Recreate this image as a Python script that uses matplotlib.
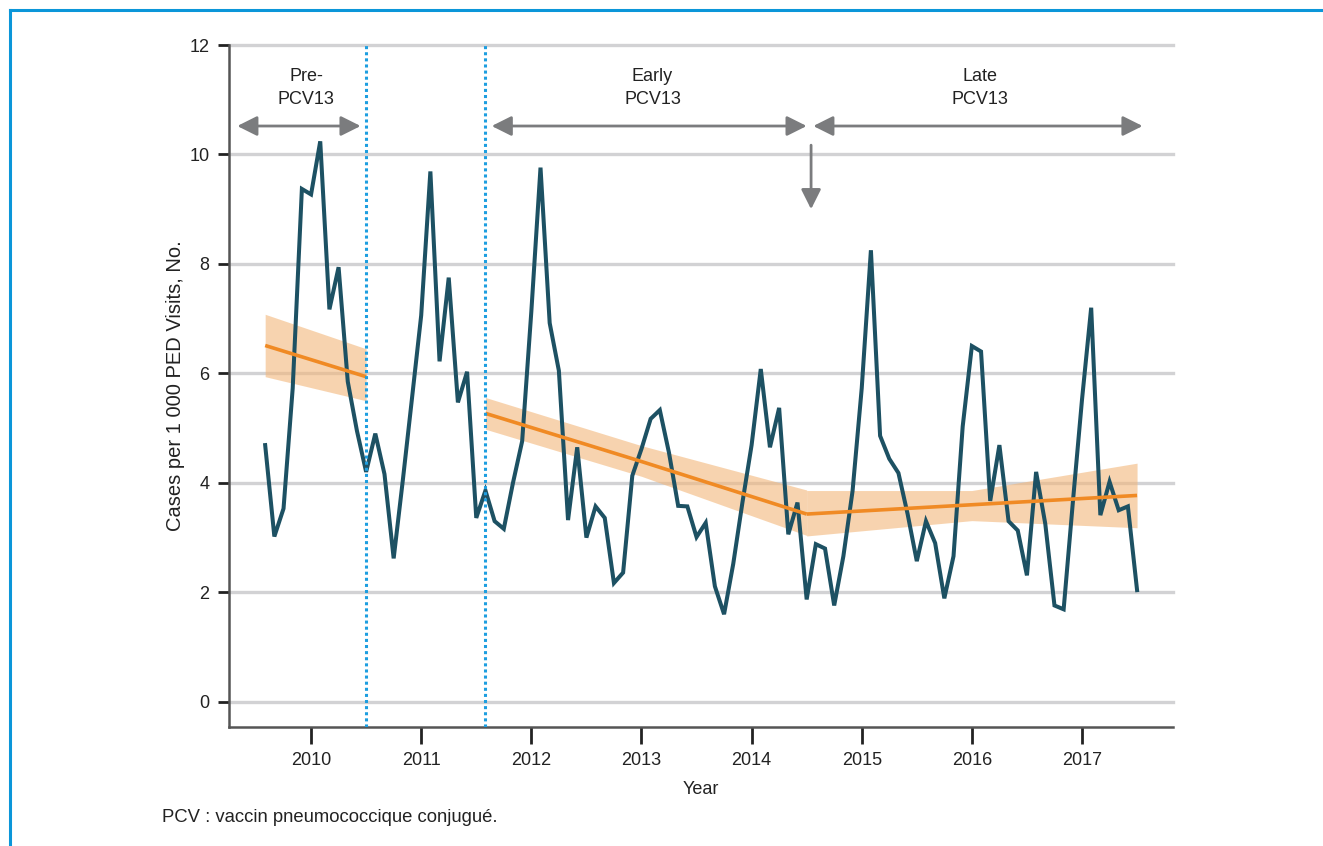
import matplotlib
matplotlib.use("Agg")
import matplotlib.pyplot as plt
import pandas as pd
from matplotlib.lines import Line2D

plt.rcParams['font.family'] = ['Liberation Sans', 'DejaVu Sans']

# Monthly series, Aug 2009 - Jul 2017
months = pd.date_range("2009-08-01", "2017-07-01", freq="MS")
cases = [
    4.69, 3.02, 3.53, 5.73, 9.37,                      # 2009
    9.27, 10.24, 7.17, 7.94, 5.85, 4.95, 4.20, 4.90, 4.16, 2.62, 4.05, 5.55,   # 2010
    7.06, 9.69, 6.22, 7.75, 5.47, 6.03, 3.36, 3.86, 3.30, 3.16, 4.00, 4.76,    # 2011
    7.13, 9.76, 6.92, 6.05, 3.32, 4.65, 3.00, 3.57, 3.36, 2.17, 2.36, 4.13,    # 2012
    4.62, 5.17, 5.33, 4.55, 3.58, 3.57, 3.01, 3.27, 2.11, 1.60, 2.52, 3.64,    # 2013
    4.69, 6.08, 4.65, 5.37, 3.06, 3.64, 1.87, 2.88, 2.80, 1.76, 2.66, 3.85,    # 2014
    5.73, 8.25, 4.86, 4.44, 4.18, 3.43, 2.57, 3.30, 2.90, 1.89, 2.66, 5.03,    # 2015
    6.50, 6.40, 3.67, 4.69, 3.30, 3.13, 2.31, 4.20, 3.25, 1.76, 1.69, 3.64,    # 2016
    5.52, 7.20, 3.41, 4.02, 3.50, 3.57, 2.04,                                  # 2017
]

# Segmented regression fits with 95% CI band (start, mid, end knots)
trend_pre_dates = ["2009-08-01", "2010-07-01"]
trend_pre = [6.51, 5.94]
band_pre_lo = [5.94, 5.50]
band_pre_hi = [7.08, 6.45]

trend_early_dates = ["2011-08-01", "2013-01-01", "2014-07-01"]
trend_early = [5.27, 4.39, 3.43]
band_early_lo = [4.98, 4.12, 3.04]
band_early_hi = [5.56, 4.68, 3.87]

trend_late_dates = ["2014-07-01", "2016-01-01", "2017-07-01"]
trend_late = [3.43, 3.60, 3.77]
band_late_lo = [3.03, 3.31, 3.18]
band_late_hi = [3.86, 3.86, 4.36]

period_breaks = ["2010-07-01", "2011-08-01"]
years = [2010, 2011, 2012, 2013, 2014, 2015, 2016, 2017]


def decimal_year(d):
    d = pd.Timestamp(d)
    return d.year + (d.month - 1) / 12


x = [decimal_year(m) for m in months]

fig = plt.figure(figsize=(13.23, 8.46), dpi=100)
ax = fig.add_axes([0.1731, 0.1407, 0.7135, 0.8061])

ax.set_xlim(2009.255, 2017.826)
ax.set_ylim(-0.46, 12)

for yv in range(0, 13, 2):
    ax.axhline(yv, color="#d2d2d4", lw=2.4, zorder=0, clip_on=False)

teal = "#1d5163"
orange = "#f08a24"
for dates, line, lo, hi in [
    (trend_pre_dates, trend_pre, band_pre_lo, band_pre_hi),
    (trend_early_dates, trend_early, band_early_lo, band_early_hi),
    (trend_late_dates, trend_late, band_late_lo, band_late_hi),
]:
    tx = [decimal_year(d) for d in dates]
    ax.fill_between(tx, lo, hi, color="#f3b77a", alpha=0.6, lw=0, zorder=1)
    ax.plot(tx, line, color=orange, lw=2.6, zorder=3, solid_capstyle="butt")

ax.plot(x, cases, color=teal, lw=2.9, zorder=2, solid_joinstyle="miter")

for b in period_breaks:
    ax.axvline(decimal_year(b), color="#1d9ee0", lw=2.2, ls=(0, (1, 1)), zorder=4)

# period arrows and labels
head = "head_length=0.6,head_width=0.3"
arrow_kw = dict(arrowstyle="<|-|>," + head, color="#7b7c7e", lw=2.0,
                shrinkA=0, shrinkB=0, mutation_scale=20)
for x0, x1, label, xc in [
    (2009.33, 2010.45, "Pre-\nPCV13", 2009.955),
    (2011.64, 2014.50, "Early\nPCV13", 2013.10),
    (2014.56, 2017.55, "Late\nPCV13", 2016.07),
]:
    ax.annotate("", xy=(x1, 10.52), xytext=(x0, 10.52), arrowprops=arrow_kw)
    ax.text(xc, 11.22, label, ha="center", va="center", fontsize=13,
            color="#222222", linespacing=1.45)

ax.annotate("", xy=(2014.54, 9.0), xytext=(2014.54, 10.17),
            arrowprops=dict(arrowstyle="-|>," + head, color="#7b7c7e", lw=2.0,
                            shrinkA=0, shrinkB=0, mutation_scale=20))

ax.set_yticks(range(0, 13, 2))
ax.set_xticks(years)
ax.tick_params(axis="y", length=8, width=2, color="#222222", labelsize=13,
               pad=6, labelcolor="#222222")
ax.tick_params(axis="x", length=12, width=2, color="#222222", labelsize=13,
               pad=6, labelcolor="#222222")

for side in ["top", "right"]:
    ax.spines[side].set_visible(False)
for side in ["left", "bottom"]:
    ax.spines[side].set_color("#555555")
    ax.spines[side].set_linewidth(1.8)

ax.set_ylabel("Cases per 1 000 PED Visits, No.", fontsize=14.5, color="#222222",
              labelpad=3)
ax.set_xlabel("Year", fontsize=13, color="#222222", labelpad=9)

fig.text(162 / 1323, 1 - 817 / 846, "PCV : vaccin pneumococcique conjugué.",
         fontsize=13.3, color="#222222", ha="left", va="center")

# blue frame on top and left
fig.add_artist(Line2D([10 / 1323, 1], [1 - 10 / 846, 1 - 10 / 846],
                      color="#0b96d9", lw=2.2, transform=fig.transFigure))
fig.add_artist(Line2D([10 / 1323, 10 / 1323], [0, 1 - 10 / 846],
                      color="#0b96d9", lw=2.2, transform=fig.transFigure))

fig.savefig("out.png", dpi=100)
